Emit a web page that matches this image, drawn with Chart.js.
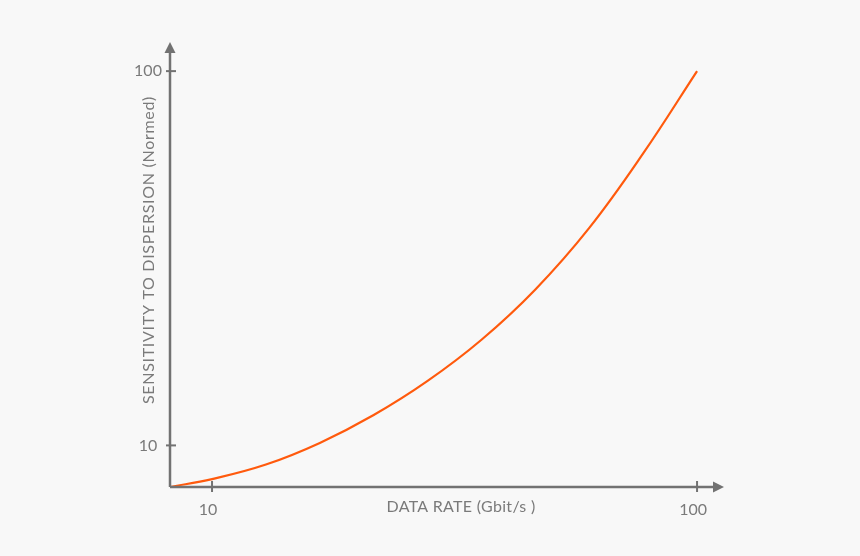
<!DOCTYPE html>
<html lang="en">
<head>
<meta charset="UTF-8">
<title>Sensitivity to dispersion vs data rate</title>
<script src="https://cdn.jsdelivr.net/npm/chart.js"></script>
<style>
  html, body { margin: 0; padding: 0; background: #f8f8f8; }
  #wrap { width: 860px; height: 556px; }
</style>
</head>
<body>
<div id="wrap"><canvas id="chart"></canvas></div>
<script>
// values
const dataRate = [2.2, 10, 20, 30, 40, 50, 60, 70, 80, 90, 100];
const sensitivity = [0, 1.9, 5.4, 10.6, 17.3, 25.5, 35.4, 47.5, 62.3, 80.2, 100];
const xTicks = [10, 100];
const yTicks = [10, 100];
const xTitle = 'DATA RATE (Gbit/s )';
const yTitle = 'SENSITIVITY TO DISPERSION (Normed)';

const axisColor = '#727272';
const textColor = '#7a7a7a';
const font = '16px Lato, "Open Sans", sans-serif';

// draws the arrowed axes, crossing ticks and labels from the chart's scales
const axesPlugin = {
  id: 'arrowAxes',
  afterDatasetsDraw(chart) {
    const { ctx, chartArea: a, scales: { x, y } } = chart;
    const x0 = a.left, y0 = a.bottom;
    ctx.save();
    ctx.strokeStyle = axisColor;
    ctx.fillStyle = axisColor;
    ctx.lineWidth = 2.5;
    ctx.beginPath();
    ctx.moveTo(x0, y0); ctx.lineTo(a.right - 8, y0);
    ctx.moveTo(x0, y0); ctx.lineTo(x0, a.top + 8);
    ctx.stroke();
    // arrows
    ctx.beginPath();
    ctx.moveTo(a.right, y0); ctx.lineTo(a.right - 11, y0 - 5.5); ctx.lineTo(a.right - 11, y0 + 5.5);
    ctx.closePath(); ctx.fill();
    ctx.beginPath();
    ctx.moveTo(x0, a.top); ctx.lineTo(x0 - 5.5, a.top + 11); ctx.lineTo(x0 + 5.5, a.top + 11);
    ctx.closePath(); ctx.fill();
    // ticks
    ctx.lineWidth = 2;
    ctx.font = font;
    ctx.fillStyle = textColor;
    ctx.textBaseline = 'middle';
    ctx.textAlign = 'center';
    xTicks.forEach(v => {
      const px = x.getPixelForValue(v);
      ctx.beginPath(); ctx.moveTo(px, y0 - 6); ctx.lineTo(px, y0 + 5); ctx.stroke();
      ctx.fillText(String(v), px - 4, y0 + 23);
    });
    yTicks.forEach(v => {
      const py = y.getPixelForValue(v);
      ctx.beginPath(); ctx.moveTo(x0 - 4, py); ctx.lineTo(x0 + 6, py); ctx.stroke();
      ctx.fillText(String(v), x0 - 22, py);
    });
    // titles
    ctx.letterSpacing = '0.3px';
    ctx.fillText(xTitle, 461, y0 + 20);
    ctx.letterSpacing = '0.7px';
    ctx.translate(x0 - 21, 250);
    ctx.rotate(-Math.PI / 2);
    ctx.fillText(yTitle, 0, 0);
    ctx.restore();
  }
};

new Chart(document.getElementById('chart'), {
  type: 'line',
  data: {
    datasets: [{
      data: dataRate.map((v, i) => ({ x: v, y: sensitivity[i] })),
      borderColor: '#ff5a0d',
      borderWidth: 2.2,
      pointRadius: 0,
      tension: 0.4,
      fill: false
    }]
  },
  options: {
    responsive: true,
    maintainAspectRatio: false,
    animation: false,
    layout: { padding: { left: 170, right: 136, top: 42, bottom: 69 } },
    plugins: { legend: { display: false }, tooltip: { enabled: false } },
    scales: {
      x: { type: 'linear', display: false, min: 2.2, max: 105 },
      y: { type: 'linear', display: false, min: 0, max: 107 }
    }
  },
  plugins: [axesPlugin]
});
</script>
</body>
</html>
